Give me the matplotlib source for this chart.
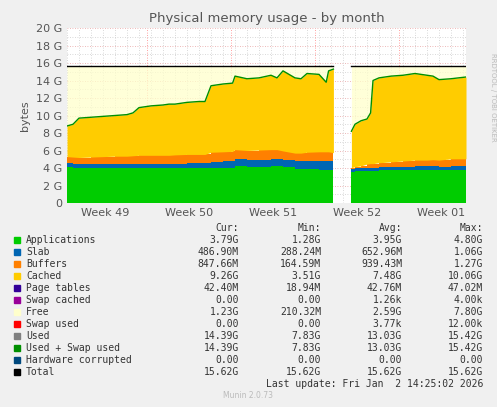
import numpy as np
import matplotlib
matplotlib.use("Agg")
import matplotlib.pyplot as plt

# sample times in days (gap between 22.2 and 23.7)
t1 = [0, 0.5, 1, 2, 3, 4, 5, 5.5, 6, 7, 8, 8.5, 9, 10, 11, 11.5, 12, 13, 13.8, 14, 15, 16, 17, 17.5, 18, 19, 19.5, 20, 21, 21.6, 21.8, 22.2]
apps1 = [4.1, 4.05, 4.0, 4.0, 3.95, 3.95, 3.95, 3.95, 3.95, 3.95, 3.95, 3.95, 3.95, 3.95, 3.95, 3.95, 4.0, 4.0, 4.0, 4.2, 4.1, 4.15, 4.2, 4.2, 4.15, 3.85, 3.85, 3.85, 3.8, 3.8, 3.8, 3.8]
slab1 = [0.45, 0.45, 0.45, 0.45, 0.5, 0.5, 0.5, 0.5, 0.55, 0.55, 0.55, 0.55, 0.55, 0.6, 0.6, 0.6, 0.7, 0.75, 0.8, 0.8, 0.8, 0.8, 0.8, 0.8, 0.8, 0.9, 0.9, 0.95, 1.0, 1.0, 1.0, 0.95]
buf1 = [0.75, 0.75, 0.75, 0.8, 0.85, 0.9, 0.9, 0.95, 0.95, 0.95, 0.95, 0.95, 1.0, 1.0, 1.0, 1.0, 1.1, 1.1, 1.1, 1.1, 1.1, 1.1, 1.1, 1.1, 1.0, 0.95, 0.95, 1.0, 1.05, 1.05, 1.05, 1.0]
used1 = [8.8, 9.0, 9.7, 9.8, 9.9, 10.0, 10.1, 10.3, 10.9, 11.1, 11.2, 11.3, 11.3, 11.5, 11.6, 11.6, 13.4, 13.6, 13.7, 14.5, 14.2, 14.3, 14.6, 14.3, 15.1, 14.3, 14.2, 14.8, 14.7, 13.8, 15.1, 15.3]

t2 = [23.7, 24.0, 24.5, 25.0, 25.3, 25.5, 26, 27, 28, 29, 30, 30.5, 31, 32, 33.25]
apps2 = [3.6, 3.65, 3.65, 3.7, 3.7, 3.7, 3.75, 3.75, 3.8, 3.8, 3.8, 3.8, 3.75, 3.8, 3.8]
slab2 = [0.3, 0.3, 0.3, 0.35, 0.35, 0.35, 0.35, 0.35, 0.35, 0.4, 0.4, 0.4, 0.4, 0.45, 0.45]
buf2 = [0.15, 0.2, 0.3, 0.4, 0.45, 0.45, 0.5, 0.6, 0.65, 0.7, 0.7, 0.75, 0.75, 0.8, 0.8]
used2 = [8.2, 9.0, 9.4, 9.6, 10.3, 14.0, 14.3, 14.5, 14.6, 14.8, 14.6, 14.5, 14.1, 14.2, 14.4]
total = 15.62

week_labels = ["Week 49", "Week 50", "Week 51", "Week 52", "Week 01"]
week_pos = [3.17, 10.17, 17.17, 24.17, 31.17]
week_bounds = [6.67, 13.67, 20.67, 27.67]

legend_names = ["Applications", "Slab", "Buffers", "Cached", "Page tables", "Swap cached", "Free",
                "Swap used", "Used", "Used + Swap used", "Hardware corrupted", "Total"]
legend_colors = ["#00cc00", "#0066b3", "#ff8000", "#ffcc00", "#330099", "#990099", "#ffffcc",
                 "#ff0000", "#808080", "#008f00", "#00487d", "#000000"]
cur = ["3.79G", "486.90M", "847.66M", "9.26G", "42.40M", "0.00", "1.23G", "0.00", "14.39G", "14.39G", "0.00", "15.62G"]
mins = ["1.28G", "288.24M", "164.59M", "3.51G", "18.94M", "0.00", "210.32M", "0.00", "7.83G", "7.83G", "0.00", "15.62G"]
avgs = ["3.95G", "652.96M", "939.43M", "7.48G", "42.76M", "1.26k", "2.59G", "3.77k", "13.03G", "13.03G", "0.00", "15.62G"]
maxs = ["4.80G", "1.06G", "1.27G", "10.06G", "47.02M", "4.00k", "7.80G", "12.00k", "15.42G", "15.42G", "0.00", "15.62G"]

fig = plt.figure(figsize=(4.97, 4.07), dpi=100, facecolor="#f0f0f0")
ax = fig.add_axes([67/497, 1-203/407, 399/497, 175/407])
ax.set_facecolor("white")

ax.set_xlim(0, 33.25)
ax.set_ylim(0, 20)
# grid drawn first (under the data)
for v in np.arange(1, 21, 1):
    ax.axhline(v, color="#e8a0a0" if v % 2 == 0 else "#cccccc", lw=0.6, ls=(0, (1, 2)), zorder=0)
for d in np.arange(0, 33.25, 1):
    ax.axvline(d, color="#cccccc", lw=0.6, ls=(0, (1, 2)), zorder=0)
for wb in week_bounds:
    ax.axvline(wb, color="#ff8080", lw=0.6, ls=(0, (1, 2)), zorder=0)

for t, a, s, b, u in [(t1, apps1, slab1, buf1, used1), (t2, apps2, slab2, buf2, used2)]:
    t = np.array(t); a = np.array(a); s = np.array(s); b = np.array(b); u = np.array(u)
    l1 = a; l2 = l1 + s; l3 = l2 + b
    ax.fill_between(t, 0, l1, color="#00cc00", lw=0, step="post", zorder=2)
    ax.fill_between(t, l1, l2, color="#0066b3", lw=0, step="post", zorder=2)
    ax.fill_between(t, l2, l3, color="#ff8000", lw=0, step="post", zorder=2)
    ax.fill_between(t, l3, u, color="#ffcc00", lw=0, zorder=2)
    ax.fill_between(t, u, total, color="#ffffcc", lw=0, alpha=0.75, zorder=1)
    ax.plot(t, u, color="#008f00", lw=1, zorder=3)
    ax.plot([t[0], t[-1]], [total, total], color="black", lw=1, zorder=3)

ax.set_yticks(range(0, 21, 2))
ax.set_yticklabels(["0"] + [f"{v} G" for v in range(2, 21, 2)])
ax.set_xticks(week_pos)
ax.set_xticklabels(week_labels)
ax.tick_params(axis="both", length=0, which="both", labelsize=8, colors="#555555")
for sp in ax.spines.values():
    sp.set_visible(False)
ax.set_ylabel("bytes", fontsize=8, color="#555555")
ax.set_title("Physical memory usage - by month", fontsize=9.5, color="#555555", pad=4)
fig.text(0.985, 0.87, "RRDTOOL / TOBI OETIKER", rotation=270, fontsize=5, color="#bbbbbb", va="top")

mono = "DejaVu Sans Mono"
fs = 7
def y(px):
    return 1 - px / 407
for xx, h in zip([239, 321, 402, 483], ["Cur:", "Min:", "Avg:", "Max:"]):
    fig.text(xx/497, y(228), h, ha="right", va="center", family=mono, fontsize=fs, color="#333333")
for i, name in enumerate(legend_names):
    py = 240 + i * 12
    fig.patches.append(plt.Rectangle((14/497, y(py) - 3/407), 6/497, 6/407, transform=fig.transFigure,
                                     color=legend_colors[i], figure=fig))
    fig.text(26/497, y(py), name, va="center", family=mono, fontsize=fs, color="#333333")
    for xx, col in zip([239, 321, 402, 483], [cur, mins, avgs, maxs]):
        fig.text(xx/497, y(py), col[i], ha="right", va="center", family=mono, fontsize=fs, color="#333333")
fig.text(483/497, y(384), "Last update: Fri Jan  2 14:25:02 2026", ha="right", va="center", family=mono, fontsize=fs, color="#333333")
fig.text(248/497, y(396), "Munin 2.0.73", ha="center", va="center", fontsize=5.5, color="#bbbbbb")

fig.savefig("out.png", dpi=100, facecolor=fig.get_facecolor())
